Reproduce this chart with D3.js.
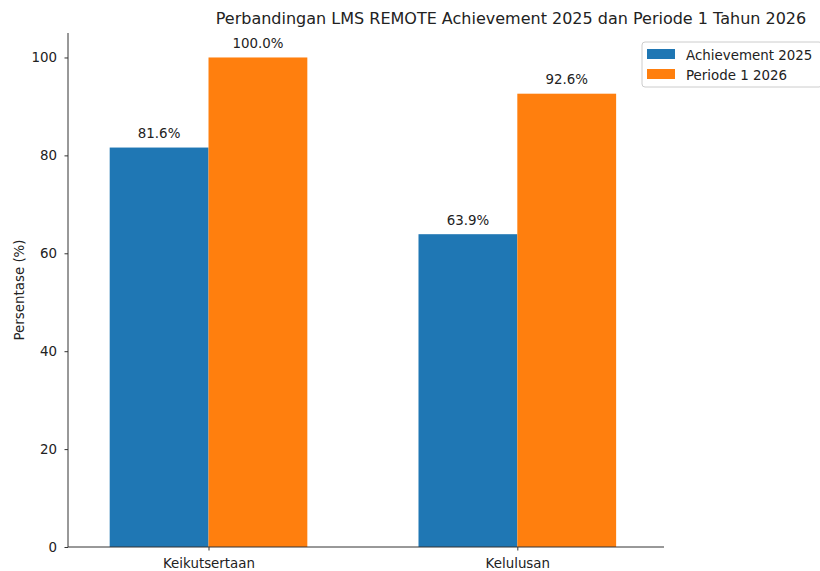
<!DOCTYPE html>
<html><head><meta charset="utf-8">
<script src="https://cdn.jsdelivr.net/npm/d3@7"></script>
<style>body{margin:0;background:#fff;} text{font-family:"DejaVu Sans",sans-serif;fill:#222;}</style>
</head><body>
<svg id="c" width="820" height="571"></svg>
<script>
const categories = ["Keikutsertaan", "Kelulusan"];
const seriesNames = ["Achievement 2025", "Periode 1 2026"];
const achievement2025 = [81.6, 63.9];
const periode1_2026 = [100.0, 92.6];
const yTicks = [0, 20, 40, 60, 80, 100];
const colors = ["#1f77b4", "#ff7f0e"];

(function () {
const svg = d3.select("#c");
const mL = 68, mR = 664, mT = 33, mB = 547;
const fs = 13.4;

const x = d3.scaleLinear().domain([-0.455, 1.475]).range([mL, mR]);
const y = d3.scaleLinear().domain([0, 105]).range([mB, mT]);
const bw = 0.32;

const series = [achievement2025, periode1_2026];
series.forEach((vals, si) => {
  const off = si === 0 ? -bw / 2 : bw / 2;
  svg.append("g").selectAll("rect").data(vals).join("rect")
    .attr("x", (d, i) => x(i + off - bw / 2))
    .attr("width", x(bw) - x(0))
    .attr("y", d => y(d))
    .attr("height", d => y(0) - y(d))
    .attr("fill", colors[si]);
  svg.append("g").selectAll("text").data(vals).join("text")
    .attr("x", (d, i) => x(i + off))
    .attr("y", d => y(d) - 9.5)
    .attr("text-anchor", "middle")
    .attr("font-size", fs)
    .text(d => d.toFixed(1) + "%");
});

// y axis
const ya = svg.append("g").attr("transform", `translate(${mL},0)`)
  .call(d3.axisLeft(y).tickValues(yTicks).tickSize(3.5).tickPadding(7.5));
ya.select(".domain").attr("d", `M0,${mT}V${mB}`).attr("stroke", "#333").attr("stroke-width", 1);
ya.selectAll(".tick line").attr("stroke", "#333");
ya.selectAll(".tick text").attr("font-size", fs).attr("font-family", "DejaVu Sans").attr("fill", "#222");

// x axis
const xa = svg.append("g").attr("transform", `translate(0,${mB})`)
  .call(d3.axisBottom(x).tickValues([0, 1]).tickFormat(i => categories[i]).tickSize(3.5).tickPadding(7.5));
xa.select(".domain").attr("d", `M${mL},0H${mR}`).attr("stroke", "#333").attr("stroke-width", 1);
xa.selectAll(".tick line").attr("stroke", "#333");
xa.selectAll(".tick text").attr("font-size", fs).attr("font-family", "DejaVu Sans").attr("fill", "#222");

// y label
svg.append("text").attr("transform", `translate(24,${(mT + mB) / 2}) rotate(-90)`)
  .attr("text-anchor", "middle").attr("font-size", fs).text("Persentase (%)");

// title
svg.append("text").attr("x", 511).attr("y", 23.5).attr("text-anchor", "middle")
  .attr("font-size", 16).text("Perbandingan LMS REMOTE Achievement 2025 dan Periode 1 Tahun 2026");

// legend
const lg = svg.append("g").attr("transform", "translate(642,42)");
lg.append("rect").attr("x", 0).attr("y", 0).attr("width", 180).attr("height", 45).attr("rx", 3)
  .attr("fill", "#fff").attr("stroke", "#ccc").attr("stroke-width", 1);
seriesNames.forEach((n, i) => {
  lg.append("rect").attr("x", 5).attr("y", 7 + i * 20).attr("width", 28).attr("height", 10).attr("fill", colors[i]);
  lg.append("text").attr("x", 44).attr("y", 17.5 + i * 20).attr("font-size", fs).text(n);
});
})();
</script>
</body></html>
